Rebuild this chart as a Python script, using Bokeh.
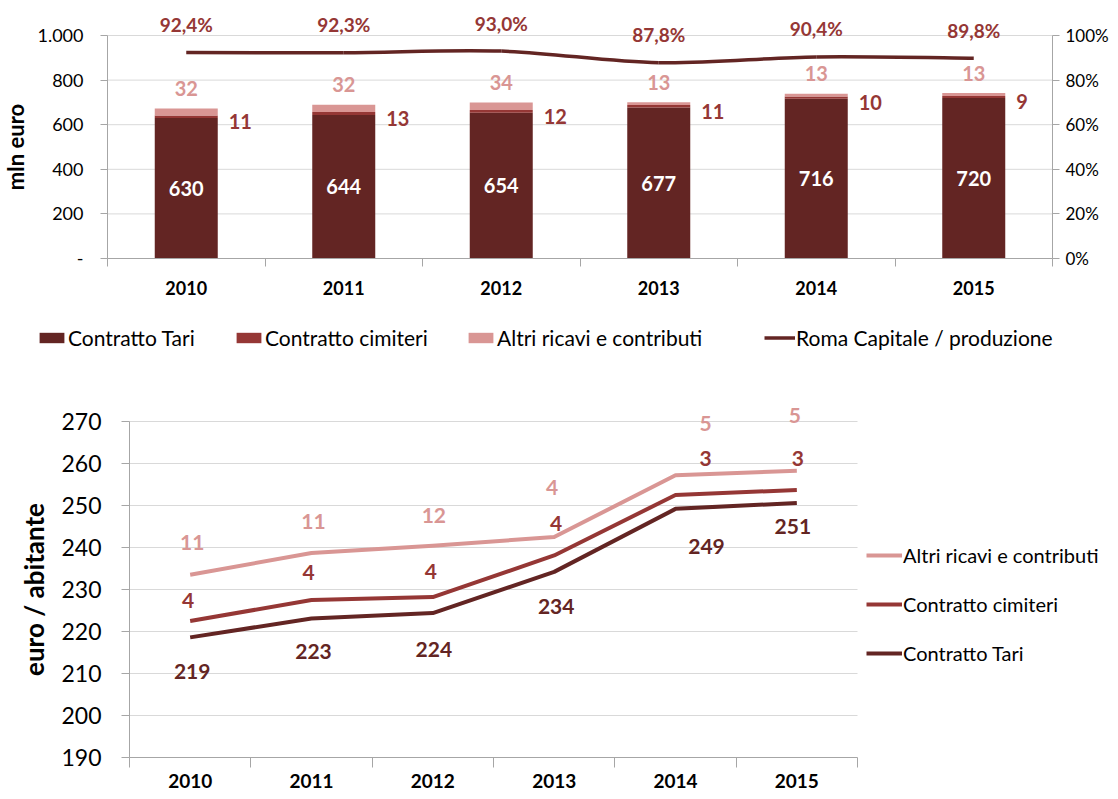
import numpy as np
from bokeh.plotting import figure
from bokeh.models import (Range1d, LinearAxis, FixedTicker, Legend, LegendItem,
                          ColumnDataSource, LabelSet)
from bokeh.layouts import column
from bokeh.embed import file_html
from bokeh.resources import INLINE
from bokeh.core.properties import value

# ---------------- data ----------------
years = ["2010", "2011", "2012", "2013", "2014", "2015"]

# top chart: mln euro
tari_mln = [630, 644, 654, 677, 716, 720]
cimiteri_mln = [11, 13, 12, 11, 10, 9]
altri_mln = [32, 32, 34, 13, 13, 13]
quota_roma = [92.4, 92.3, 93.0, 87.8, 90.4, 89.8]
quota_labels = ["92,4%", "92,3%", "93,0%", "87,8%", "90,4%", "89,8%"]

# bottom chart: euro / abitante
tari_ab = [218.6, 223.1, 224.4, 234.2, 249.2, 250.6]
cimiteri_ab = [3.9, 4.4, 3.8, 3.9, 3.3, 3.1]
altri_ab = [11.0, 11.2, 12.2, 4.4, 4.7, 4.6]

y1_ticks = [0, 200, 400, 600, 800, 1000]
y1_labels = ["-", "200", "400", "600", "800", "1.000"]
y2_ticks = [0, 20, 40, 60, 80, 100]
y2_labels = ["0%", "20%", "40%", "60%", "80%", "100%"]
y3_ticks = [190, 200, 210, 220, 230, 240, 250, 260, 270]

# ---------------- style ----------------
C_TARI = "#632523"
C_CIM = "#953735"
C_ALTRI = "#D99694"
GRID = "#D9D9D9"
AXIS = "#A6A6A6"
FONT = "Lato"

# label offsets (screen px, +down) for bottom chart labels
tari_dx = [2, 2, 1, 2, 31, -4]
tari_dy = [34, 33, 36, 35, 38, 24]
cim_dx = [-2, -3, -2, 2, 30, 1]
cim_dy = [-21, -28, -26, -32, -37, -31]
altri_dx = [2, 2, 1, -2, 30, -2]
altri_dy = [-32, -31, -30, -50, -52, -55]

n = len(years)
xpos = [i + 0.5 for i in range(n)]
minor = list(range(n + 1))


def ranges(W, H, L, R, T, B, vmin, vmax):
    """Data ranges so that the plot area [0,n]x[vmin,vmax] sits at pixel box L..R, T..B."""
    xp = (R - L) / n
    yp = (B - T) / (vmax - vmin)
    return (-L / xp, n + (W - R) / xp), (vmin - (H - B) / yp, vmax + T / yp)


def style_xaxis(ax, size, standoff, tick_out, loc):
    ax.ticker = FixedTicker(ticks=xpos, minor_ticks=minor)
    ax.major_label_overrides = {xv: yr for xv, yr in zip(xpos, years)}
    ax.fixed_location = loc
    ax.bounds = (0, n)
    ax.axis_line_color = AXIS
    ax.major_tick_line_color = None
    ax.major_tick_out = 0
    ax.major_tick_in = 0
    ax.minor_tick_line_color = AXIS
    ax.minor_tick_out = tick_out
    ax.minor_tick_in = 0
    ax.major_label_text_font = FONT
    ax.major_label_text_font_style = "bold"
    ax.major_label_text_font_size = size
    ax.major_label_text_color = "black"
    ax.major_label_standoff = standoff


def style_yaxis(ax, ticks, labels, bounds, loc, size, standoff, tick_out):
    ax.ticker = FixedTicker(ticks=ticks)
    if labels is not None:
        ax.major_label_overrides = dict(zip(ticks, labels))
    ax.fixed_location = loc
    ax.bounds = bounds
    ax.axis_line_color = AXIS
    ax.major_tick_line_color = AXIS
    ax.major_tick_out = tick_out
    ax.major_tick_in = 0
    ax.minor_tick_line_color = None
    ax.major_label_standoff = standoff
    ax.major_label_text_font = FONT
    ax.major_label_text_font_size = size
    ax.major_label_text_color = "black"


def base_fig(W, H, xr, yr):
    p = figure(width=W, height=H, x_range=Range1d(*xr), y_range=Range1d(*yr),
               output_backend="svg", toolbar_location=None,
               min_border_left=0, min_border_right=0, min_border_top=0, min_border_bottom=0)
    p.outline_line_color = None
    p.background_fill_color = "white"
    p.border_fill_color = "white"
    p.xgrid.visible = False
    p.ygrid.visible = False
    return p


def legend(items, loc, **kw):
    opts = dict(location=loc, padding=0, margin=0, border_line_color=None, background_fill_alpha=0,
                label_text_font=FONT, label_text_color="black", label_standoff=1)
    opts.update(kw)
    return Legend(items=items, **opts)


# ================= TOP CHART =================
W1, H1 = 1110, 370
xr1, yr1 = ranges(W1, H1, 107, 1052, 35, 258, 0, 1000)
_, pr1 = ranges(W1, H1, 107, 1052, 35, 258, 0, 100)
p1 = base_fig(W1, H1, xr1, yr1)
p1.extra_y_ranges = {"pct": Range1d(*pr1)}

# grid lines (only over the plot area)
p1.segment(x0=0, x1=n, y0=y1_ticks[1:], y1=y1_ticks[1:], line_color=GRID, line_width=1)

t = np.array(tari_mln, dtype=float)
c = np.array(cimiteri_mln, dtype=float)
a = np.array(altri_mln, dtype=float)
src1 = ColumnDataSource(dict(
    x=xpos, tari=t, cim_top=t + c, tot=t + c + a,
    tari_mid=t / 2, cim_mid=t + c / 2, xr=[xv + 0.2 for xv in xpos],
    tari_lbl=[str(v) for v in tari_mln], cim_lbl=[str(v) for v in cimiteri_mln],
    altri_lbl=[str(v) for v in altri_mln],
    pct=quota_roma, pct_lbl=quota_labels,
))

r_tari = p1.vbar(x="x", width=0.4, bottom=0, top="tari", fill_color=C_TARI, line_color=None, source=src1)
r_cim = p1.vbar(x="x", width=0.4, bottom="tari", top="cim_top", fill_color=C_CIM, line_color=None, source=src1)
r_altri = p1.vbar(x="x", width=0.4, bottom="cim_top", top="tot", fill_color=C_ALTRI, line_color=None, source=src1)

# smoothed line (Catmull-Rom -> Bezier) through the data points
xs = np.array(xpos)
ys = np.array(quota_roma)
xp = np.concatenate([[xs[0]], xs, [xs[-1]]])
yp = np.concatenate([[ys[0]], ys, [ys[-1]]])
bz = ColumnDataSource(dict(
    x0=xs[:-1], y0=ys[:-1], x1=xs[1:], y1=ys[1:],
    cx0=xs[:-1] + (xp[2:n + 1] - xp[0:n - 1]) / 6, cy0=ys[:-1] + (yp[2:n + 1] - yp[0:n - 1]) / 6,
    cx1=xs[1:] - (xp[3:n + 2] - xp[1:n]) / 6, cy1=ys[1:] - (yp[3:n + 2] - yp[1:n]) / 6,
))
r_line = p1.bezier(x0="x0", y0="y0", x1="x1", y1="y1", cx0="cx0", cy0="cy0", cx1="cx1", cy1="cy1",
                   line_color=C_TARI, line_width=3.5, y_range_name="pct", source=bz)

# axes
style_xaxis(p1.xaxis[0], "18px", 14, 8, 0)
ya = p1.yaxis[0]
style_yaxis(ya, y1_ticks, y1_labels, (0, 1000), 0, "18px", 17, 7)
ya.axis_label = "mln euro"
ya.axis_label_text_font = FONT
ya.axis_label_text_font_style = "bold"
ya.axis_label_text_font_size = "22px"
ya.axis_label_text_color = "black"
ya.axis_label_standoff = 5

ra = LinearAxis(y_range_name="pct")
style_yaxis(ra, y2_ticks, y2_labels, (0, 100), n, "17px", 6, 7)
p1.add_layout(ra, "right")

# data labels
common = dict(text_font=value(FONT), text_font_style="bold", text_baseline="middle")
p1.add_layout(LabelSet(x="x", y="tari_mid", text="tari_lbl", text_align="center", text_color="white",
                       text_font_size="20px", source=src1, **common))
p1.add_layout(LabelSet(x="xr", y="cim_mid", text="cim_lbl", text_align="left", text_color=C_CIM,
                       x_offset=11, y_offset=-5, text_font_size="20px", source=src1, **common))
p1.add_layout(LabelSet(x="x", y="tot", text="altri_lbl", text_align="center", text_color=C_ALTRI,
                       y_offset=20, text_font_size="20px", source=src1, **common))
p1.add_layout(LabelSet(x="x", y="pct", text="pct_lbl", text_align="center", text_color=C_CIM,
                       y_offset=28, text_font_size="19px", y_range_name="pct", source=src1, **common))

# legend: one entry per box, placed like the reference
leg_kw = dict(orientation="horizontal", glyph_width=31, glyph_height=13,
              label_text_font_size="21px", label_height=22)
for lbl, rend, lx in [("Contratto Tari", r_tari, 36), ("Contratto cimiteri", r_cim, 233),
                      ("Altri ricavi e contributi", r_altri, 465),
                      ("Roma Capitale / produzione", r_line, 764)]:
    p1.add_layout(legend([LegendItem(label=lbl, renderers=[rend])], (lx, 20), **leg_kw), "center")

# ================= BOTTOM CHART =================
W2, H2 = 1110, 421
xr2, yr2 = ranges(W2, H2, 129, 857, 51, 387, 190, 270)
p2 = base_fig(W2, H2, xr2, yr2)

p2.segment(x0=0, x1=n, y0=y3_ticks[1:], y1=y3_ticks[1:], line_color=GRID, line_width=1)

t2 = np.array(tari_ab)
c2 = t2 + np.array(cimiteri_ab)
a2 = c2 + np.array(altri_ab)
src2 = ColumnDataSource(dict(
    x=xpos, tari=t2, cim=c2, altri=a2,
    tari_lbl=[f"{v:.0f}" for v in tari_ab], cim_lbl=[f"{v:.0f}" for v in cimiteri_ab],
    altri_lbl=[f"{v:.0f}" for v in altri_ab],
    tdx=tari_dx, tdy=[-d for d in tari_dy],
    cdx=cim_dx, cdy=[-d for d in cim_dy],
    adx=altri_dx, ady=[-d for d in altri_dy],
))

l_altri = p2.line(x="x", y="altri", line_color=C_ALTRI, line_width=4, line_join="round", source=src2)
l_cim = p2.line(x="x", y="cim", line_color=C_CIM, line_width=4, line_join="round", source=src2)
l_tari = p2.line(x="x", y="tari", line_color=C_TARI, line_width=4, line_join="round", source=src2)

style_xaxis(p2.xaxis[0], "19px", 6, 10, 190)
yb = p2.yaxis[0]
style_yaxis(yb, y3_ticks, None, (190, 270), 0, "23px", 20, 8)
yb.axis_label = "euro / abitante"
yb.axis_label_text_font = FONT
yb.axis_label_text_font_style = "bold"
yb.axis_label_text_font_size = "26px"
yb.axis_label_text_color = "black"
yb.axis_label_standoff = 8

p2.add_layout(LabelSet(x="x", y="tari", text="tari_lbl", text_align="center", text_color=C_TARI,
                       x_offset="tdx", y_offset="tdy", text_font_size="21px", source=src2, **common))
p2.add_layout(LabelSet(x="x", y="cim", text="cim_lbl", text_align="center", text_color=C_CIM,
                       x_offset="cdx", y_offset="cdy", text_font_size="21px", source=src2, **common))
p2.add_layout(LabelSet(x="x", y="altri", text="altri_lbl", text_align="center", text_color=C_ALTRI,
                       x_offset="adx", y_offset="ady", text_font_size="21px", source=src2, **common))

leg2 = legend([
    LegendItem(label="Altri ricavi e contributi", renderers=[l_altri]),
    LegendItem(label="Contratto cimiteri", renderers=[l_cim]),
    LegendItem(label="Contratto Tari", renderers=[l_tari]),
], (866, 126), orientation="vertical", spacing=25, glyph_width=36, glyph_height=24,
    label_text_font_size="20px", label_height=24)
p2.add_layout(leg2, "center")

layout = column(p1, p2)
open("out.html", "w").write(file_html(layout, INLINE))
